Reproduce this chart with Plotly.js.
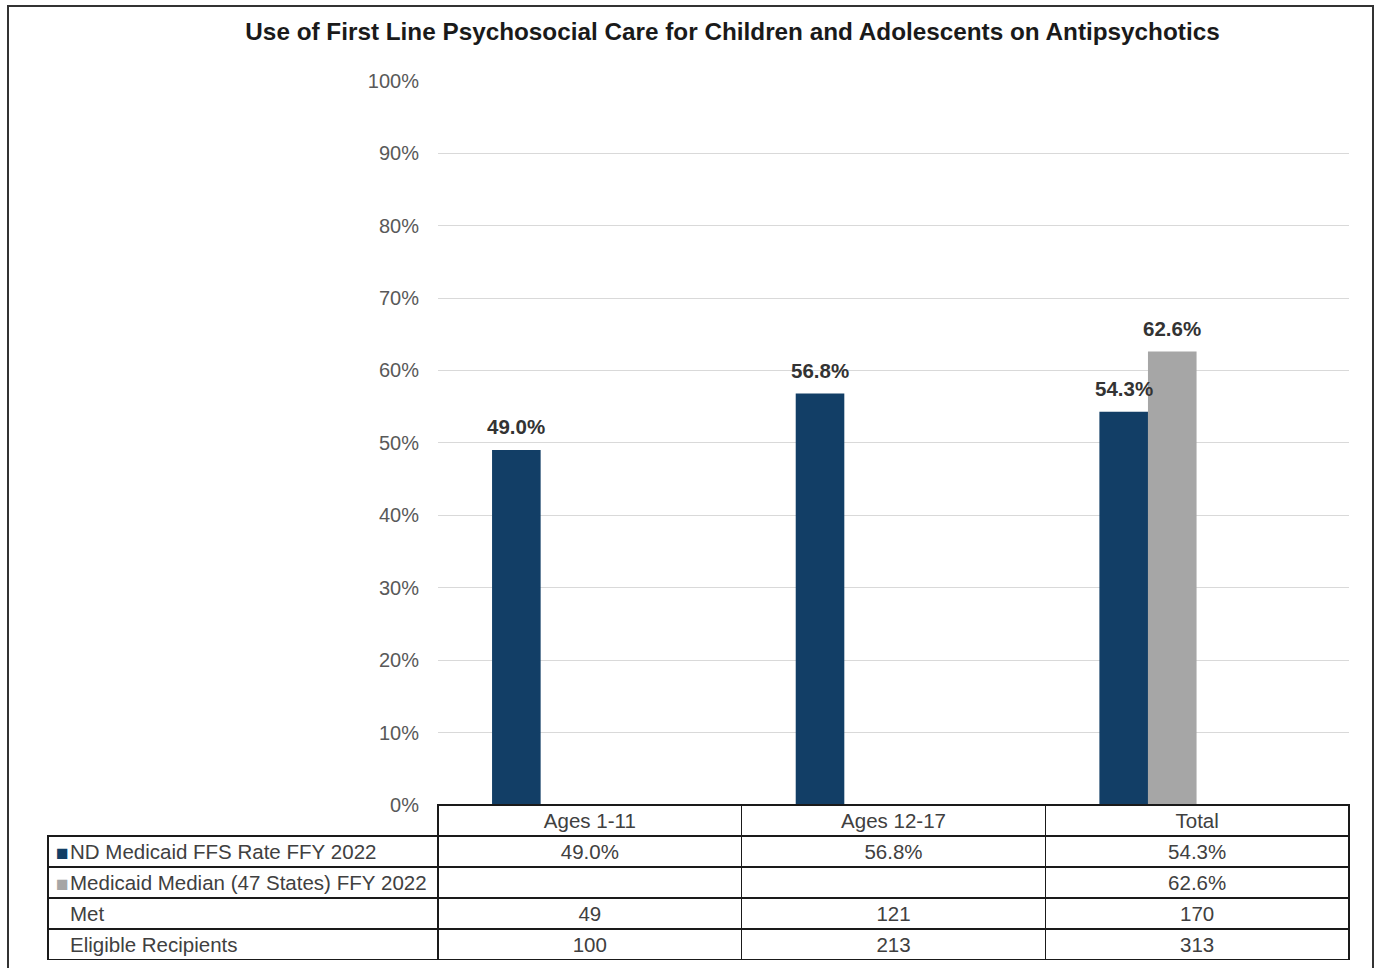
<!DOCTYPE html>
<html>
<head>
<meta charset="utf-8">
<script src="https://cdn.plot.ly/plotly-3.0.1.min.js"></script>
<style>html,body{margin:0;padding:0;background:#fff;}#chart{width:1381px;height:968px;}</style>
</head>
<body>
<div id="chart"></div>
<script>
const categories = ["Ages 1-11", "Ages 12-17", "Total"];
const ndRate = [0.490, 0.568, 0.543];
const medianRate = [null, null, 0.626];
const metCounts = [49, 121, 170];
const eligibleCounts = [100, 213, 313];
const seriesNames = ["ND Medicaid FFS Rate FFY 2022", "Medicaid Median (47 States) FFY 2022"];
const countRowNames = ["Met", "Eligible Recipients"];
const chartTitle = "Use of First Line Psychosocial Care for Children and Adolescents on Antipsychotics";

const navy = "#123e66";
const grey = "#a6a6a6";
const FONT = "Liberation Sans, Arial, sans-serif";
const BAR_W = 0.16, ND_OFF = -0.322, MED_OFF = -0.162;
const NONE = "rgba(0,0,0,0)";

function pct(v) { return v == null ? "" : (v * 100).toFixed(1) + "%"; }
function nowrap(s) { return s.replace(/ /g, "\u00a0"); }

const barND = {
  type: "bar", x: categories, y: ndRate, name: seriesNames[0],
  marker: { color: navy }, width: BAR_W, offset: ND_OFF,
  hoverinfo: "skip", showlegend: false
};
const barMed = {
  type: "bar", x: categories, y: medianRate, name: seriesNames[1],
  marker: { color: grey }, width: BAR_W, offset: MED_OFF,
  hoverinfo: "skip", showlegend: false
};

// value labels above bars
const annotations = [];
[[ndRate, ND_OFF], [medianRate, MED_OFF]].forEach(([vals, off]) => {
  vals.forEach((v, i) => {
    if (v == null) return;
    annotations.push({
      xref: "x", yref: "y", x: i + off + BAR_W / 2, y: v,
      text: pct(v), showarrow: false, yanchor: "bottom", xanchor: "center", yshift: 10,
      font: { family: FONT, size: 20.5, weight: 700, color: "#333" }
    });
  });
});

const rowLabels = seriesNames.concat(countRowNames).map(nowrap);
const dataCols = categories.map((c, i) => [pct(ndRate[i]), pct(medianRate[i]), String(metCounts[i]), String(eligibleCounts[i])]);
const TFONT = { family: FONT, size: 20.5, color: "#404040" };
const TDOM_Y = [0, 155 / 880];

// grid + values
const table = {
  type: "table",
  domain: { x: [0, 1], y: TDOM_Y },
  columnwidth: [390, 303.67, 303.67, 303.67],
  header: {
    values: [""].concat(categories.map(nowrap)),
    height: 31,
    align: ["left", "center", "center", "center"],
    line: { color: [NONE, "#1a1a1a", "#1a1a1a", "#1a1a1a"], width: 1.4 },
    fill: { color: NONE },
    font: TFONT
  },
  cells: {
    values: [["", "", "", ""]].concat(dataCols),
    height: 31,
    align: ["left", "center", "center", "center"],
    line: { color: "#1a1a1a", width: 1.4 },
    fill: { color: NONE },
    font: TFONT
  }
};

// row names
const labelTable = {
  type: "table",
  domain: { x: [14 / 1301, 390 / 1301], y: TDOM_Y },
  header: { values: [""], height: 31, line: { color: NONE, width: 0 }, fill: { color: NONE } },
  cells: {
    values: [rowLabels], height: 31, align: "left",
    line: { color: NONE, width: 0 }, fill: { color: NONE }, font: TFONT
  }
};

// legend keys
const keyTable = {
  type: "table",
  domain: { x: [0, 20 / 1301], y: TDOM_Y },
  header: { values: [""], height: 31, line: { color: NONE, width: 0 }, fill: { color: NONE } },
  cells: {
    values: [["■", "■", "", ""]],
    height: 31, align: "left",
    line: { color: NONE, width: 0 },
    fill: { color: NONE },
    font: { family: FONT, size: 21, color: [[navy, grey, navy, navy]] }
  }
};

const layout = {
  width: 1381, height: 968,
  margin: { l: 48, r: 32, t: 80, b: 8 },
  paper_bgcolor: "#fff", plot_bgcolor: "#fff",
  title: {
    text: chartTitle, xref: "container", x: 732.5 / 1381, xanchor: "center",
    yref: "container", y: 1 - 31 / 968, yanchor: "middle",
    font: { family: FONT, size: 24.3, weight: 700, color: "#1a1a1a" }
  },
  xaxis: {
    domain: [390 / 1301, 1], range: [-0.5, 2.5], type: "category",
    showticklabels: false, showgrid: false, zeroline: false, showline: false, ticks: ""
  },
  yaxis: {
    domain: [155 / 880, 1], range: [0, 1.001], dtick: 0.1, tickformat: ".0%",
    showgrid: true, gridcolor: "#d9d9d9", gridwidth: 1, zeroline: false, showline: false,
    ticks: "", ticklabelstandoff: 18,
    tickfont: { family: FONT, size: 20, color: "#595959" }
  },
  annotations: annotations,
  shapes: [{
    type: "rect", xref: "paper", yref: "paper",
    x0: (8 - 48) / 1301, x1: (1373 - 48) / 1301,
    y0: -0.03, y1: 1 + (80 - 6) / 880,
    line: { color: "#333", width: 2 }, fillcolor: NONE, layer: "below"
  }]
};

Plotly.newPlot("chart", [barND, barMed, table, labelTable, keyTable], layout, { displayModeBar: false, staticPlot: true });
</script>
</body>
</html>
